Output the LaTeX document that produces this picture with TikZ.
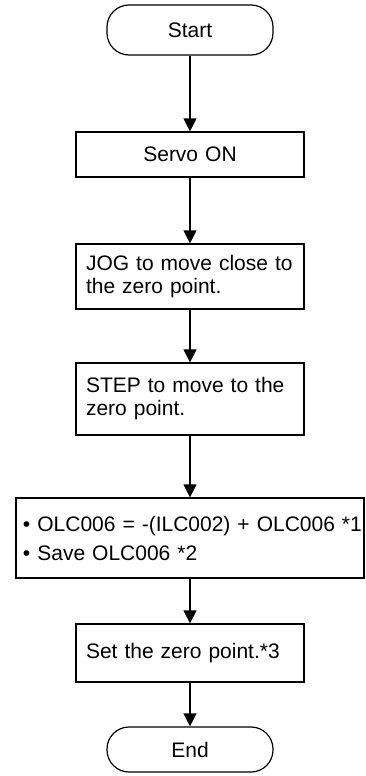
\documentclass[tikz,border=0pt]{standalone}
\usepackage{fontspec}
\setmainfont{Liberation Sans}
\usetikzlibrary{shapes,arrows.meta,positioning}
\tikzset{
  terminal/.style={draw, line width=0.6pt, rounded corners=11pt, minimum width=83pt, inner sep=0pt, font=\fontsize{10.5}{12}\selectfont},
  procbox/.style={draw, line width=0.6pt, inner xsep=5pt, text width=104pt, align=left, font=\fontsize{10.5}{11.5}\selectfont},
  flow/.style={line width=0.6pt, -{Triangle[length=6.5pt,width=6.5pt]}}
}

\begin{document}
\begin{tikzpicture}[x=0.5pt,y=-0.5pt]
\useasboundingbox (0,0) rectangle (365,776);
\node[terminal, minimum height=25pt] (start) at (190,30) {Start};
\node[procbox, align=center, minimum height=22.5pt] (servo) at (190,154.5) {Servo ON};
\node[procbox, minimum height=32.5pt] (jog) at (190,276.5) {JOG to move close to\\the zero point.};
\node[procbox, minimum height=36pt] (stepmove) at (190,399) {STEP to move to the\\zero point.};
\node[procbox, inner xsep=3.5pt, text width=167pt, minimum height=40pt] (olc) at (190,538) {%
    \mbox{• OLC006 = -(ILC002) + OLC006 *1}\\[3pt]
    • Save OLC006 *2};
\node[procbox, minimum height=29pt] (setzero) at (190,653) {Set the zero point.*3};
\node[terminal, minimum height=22.5pt] (end) at (190,749.5) {End};

\draw[flow] (start) -- (servo);
\draw[flow] (servo) -- (jog);
\draw[flow] (jog) -- (stepmove);
\draw[flow] (stepmove) -- (olc);
\draw[flow] (olc) -- (setzero);
\draw[flow] (setzero) -- (end);
\end{tikzpicture}
\end{document}
